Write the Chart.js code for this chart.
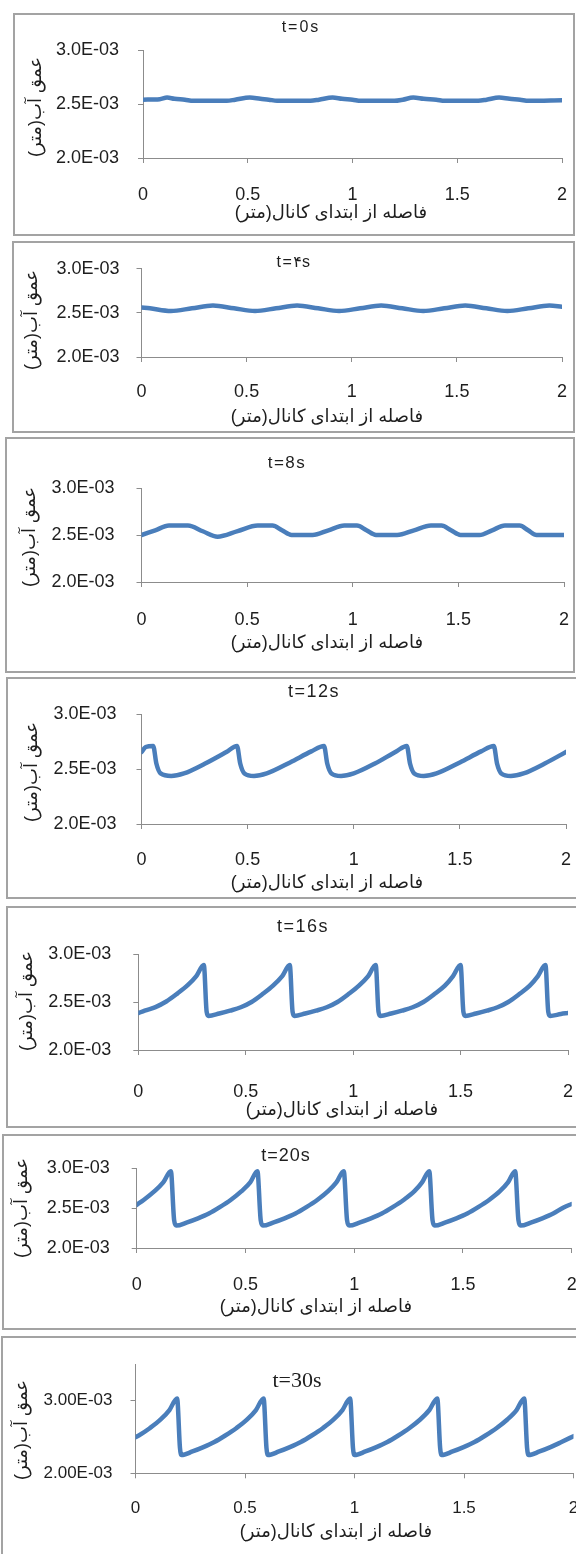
<!DOCTYPE html>
<html>
<head>
<meta charset="utf-8">
<script src="https://cdn.jsdelivr.net/npm/chart.js@4.4.0/dist/chart.umd.min.js"></script>
<style>
  html, body { margin: 0; padding: 0; background: #fff; }
  body { position: relative; width: 576px; height: 1554px; overflow: hidden; }
  .box { position: absolute; border: 2px solid #a3a3a3; box-sizing: border-box; }
  canvas { position: absolute; left: 0; }
</style>
</head>
<body>
<script>
// Distance from the channel inlet (m) and water depth (m), one pair of arrays per time step.
const dist0  = [0, 0.08, 0.115, 0.15, 0.2, 0.24, 0.4, 0.44, 0.51, 0.56, 0.6, 0.64, 0.8, 0.84, 0.905, 0.95, 1.0, 1.04, 1.2, 1.24, 1.29, 1.34, 1.4, 1.44, 1.6, 1.64, 1.7, 1.75, 1.8, 1.84, 2.0];
const depth0 = [2.540e-3, 2.545e-3, 2.560e-3, 2.548e-3, 2.540e-3, 2.530e-3,
                2.530e-3, 2.540e-3, 2.560e-3, 2.548e-3, 2.540e-3, 2.530e-3,
                2.530e-3, 2.540e-3, 2.560e-3, 2.548e-3, 2.540e-3, 2.530e-3,
                2.530e-3, 2.540e-3, 2.560e-3, 2.548e-3, 2.540e-3, 2.530e-3,
                2.530e-3, 2.540e-3, 2.560e-3, 2.548e-3, 2.540e-3, 2.530e-3, 2.535e-3];

const dist4  = [0, 0.04, 0.14, 0.24, 0.34, 0.44, 0.54, 0.64, 0.74, 0.84, 0.94, 1.04, 1.14, 1.24, 1.34, 1.44, 1.54, 1.64, 1.74, 1.84, 1.94, 2.0];
const depth4 = [2.562e-3, 2.552e-3, 2.522e-3, 2.552e-3, 2.583e-3, 2.552e-3, 2.522e-3, 2.552e-3, 2.583e-3,
                2.552e-3, 2.522e-3, 2.552e-3, 2.583e-3, 2.552e-3, 2.522e-3, 2.552e-3, 2.583e-3,
                2.552e-3, 2.522e-3, 2.552e-3, 2.583e-3, 2.570e-3];

const dist8  = [0, 0.065, 0.13, 0.22, 0.29, 0.36, 0.455, 0.55, 0.62, 0.665, 0.71, 0.81, 0.885, 0.96, 1.02, 1.065, 1.11, 1.21, 1.29, 1.37, 1.42, 1.465, 1.51, 1.6, 1.66, 1.72, 1.79, 1.83, 1.87, 2.0];
const depth8 = [2.50e-3, 2.55e-3, 2.60e-3, 2.60e-3, 2.54e-3, 2.482e-3, 2.541e-3, 2.60e-3, 2.60e-3, 2.55e-3,
                2.50e-3, 2.50e-3, 2.55e-3, 2.60e-3, 2.60e-3, 2.55e-3, 2.50e-3, 2.50e-3, 2.55e-3, 2.60e-3,
                2.60e-3, 2.55e-3, 2.50e-3, 2.50e-3, 2.55e-3, 2.60e-3, 2.60e-3, 2.55e-3, 2.50e-3, 2.50e-3];

const dist12  = [0, 0.02, 0.055, 0.07, 0.09, 0.14, 0.2, 0.3, 0.4, 0.45, 0.465, 0.485, 0.53, 0.59, 0.7, 0.8, 0.86, 0.875, 0.895, 0.94, 1.0, 1.1, 1.2, 1.25, 1.265, 1.285, 1.33, 1.39, 1.5, 1.6, 1.66, 1.675, 1.695, 1.74, 1.8, 1.9, 2.0];
const depth12 = [2.655e-3, 2.700e-3, 2.710e-3, 2.550e-3, 2.460e-3, 2.437e-3, 2.460e-3, 2.550e-3, 2.655e-3,
                 2.710e-3, 2.550e-3, 2.460e-3, 2.437e-3, 2.460e-3, 2.560e-3, 2.660e-3,
                 2.710e-3, 2.550e-3, 2.460e-3, 2.437e-3, 2.460e-3, 2.550e-3, 2.660e-3,
                 2.710e-3, 2.550e-3, 2.460e-3, 2.437e-3, 2.460e-3, 2.560e-3, 2.660e-3,
                 2.710e-3, 2.550e-3, 2.460e-3, 2.437e-3, 2.460e-3, 2.550e-3, 2.655e-3];

const dist16  = [0, 0.03, 0.08, 0.13, 0.18, 0.23, 0.27, 0.305, 0.318, 0.327,
                 0.377, 0.427, 0.477, 0.527, 0.577, 0.627, 0.67, 0.705, 0.718, 0.727,
                 0.777, 0.827, 0.877, 0.927, 0.977, 1.027, 1.07, 1.105, 1.118, 1.127,
                 1.177, 1.227, 1.277, 1.327, 1.377, 1.427, 1.465, 1.5, 1.513, 1.522,
                 1.572, 1.622, 1.672, 1.722, 1.772, 1.822, 1.86, 1.895, 1.908, 1.917,
                 1.967, 2.0];
const depth16 = [2.385e-3, 2.410e-3, 2.447e-3, 2.505e-3, 2.585e-3, 2.675e-3, 2.770e-3, 2.885e-3, 2.400e-3, 2.355e-3,
                 2.380e-3, 2.410e-3, 2.445e-3, 2.500e-3, 2.580e-3, 2.670e-3, 2.770e-3, 2.885e-3, 2.400e-3, 2.355e-3,
                 2.380e-3, 2.410e-3, 2.445e-3, 2.500e-3, 2.580e-3, 2.670e-3, 2.770e-3, 2.885e-3, 2.400e-3, 2.355e-3,
                 2.380e-3, 2.410e-3, 2.445e-3, 2.500e-3, 2.580e-3, 2.670e-3, 2.770e-3, 2.885e-3, 2.400e-3, 2.355e-3,
                 2.380e-3, 2.410e-3, 2.445e-3, 2.500e-3, 2.580e-3, 2.670e-3, 2.770e-3, 2.885e-3, 2.400e-3, 2.355e-3,
                 2.375e-3, 2.385e-3];

const dist20  = [0, 0.032, 0.082, 0.122, 0.157, 0.172, 0.182,
                 0.232, 0.282, 0.332, 0.382, 0.432, 0.482, 0.522, 0.555, 0.57, 0.58,
                 0.63, 0.68, 0.73, 0.78, 0.83, 0.88, 0.918, 0.952, 0.967, 0.977,
                 1.027, 1.077, 1.127, 1.177, 1.227, 1.277, 1.312, 1.345, 1.36, 1.37,
                 1.42, 1.47, 1.52, 1.57, 1.62, 1.67, 1.707, 1.74, 1.755, 1.765,
                 1.815, 1.865, 1.915, 1.965, 2.0];
const depth20 = [2.54e-3, 2.60e-3, 2.71e-3, 2.82e-3, 2.96e-3, 2.35e-3, 2.28e-3,
                 2.32e-3, 2.37e-3, 2.43e-3, 2.51e-3, 2.60e-3, 2.71e-3, 2.82e-3, 2.96e-3, 2.35e-3, 2.28e-3,
                 2.32e-3, 2.37e-3, 2.43e-3, 2.51e-3, 2.60e-3, 2.71e-3, 2.82e-3, 2.96e-3, 2.35e-3, 2.28e-3,
                 2.32e-3, 2.37e-3, 2.43e-3, 2.51e-3, 2.60e-3, 2.71e-3, 2.82e-3, 2.96e-3, 2.35e-3, 2.28e-3,
                 2.32e-3, 2.37e-3, 2.43e-3, 2.51e-3, 2.60e-3, 2.71e-3, 2.82e-3, 2.96e-3, 2.35e-3, 2.28e-3,
                 2.32e-3, 2.37e-3, 2.43e-3, 2.51e-3, 2.55e-3];

const dist30  = [0, 0.015, 0.065, 0.115, 0.155, 0.19, 0.203, 0.21,
                 0.26, 0.31, 0.36, 0.41, 0.46, 0.51, 0.55, 0.585, 0.598, 0.605,
                 0.655, 0.705, 0.755, 0.805, 0.855, 0.905, 0.945, 0.98, 0.993, 1.0,
                 1.05, 1.1, 1.15, 1.2, 1.25, 1.3, 1.342, 1.378, 1.391, 1.398,
                 1.448, 1.498, 1.548, 1.598, 1.648, 1.698, 1.74, 1.775, 1.788, 1.795,
                 1.845, 1.895, 1.945, 2.0];
const depth30 = [2.497e-3, 2.52e-3, 2.62e-3, 2.74e-3, 2.87e-3, 3.03e-3, 2.35e-3, 2.25e-3,
                 2.30e-3, 2.36e-3, 2.43e-3, 2.52e-3, 2.62e-3, 2.74e-3, 2.87e-3, 3.03e-3, 2.35e-3, 2.25e-3,
                 2.30e-3, 2.36e-3, 2.43e-3, 2.52e-3, 2.62e-3, 2.74e-3, 2.87e-3, 3.03e-3, 2.35e-3, 2.25e-3,
                 2.30e-3, 2.36e-3, 2.43e-3, 2.52e-3, 2.62e-3, 2.74e-3, 2.87e-3, 3.03e-3, 2.35e-3, 2.25e-3,
                 2.30e-3, 2.36e-3, 2.43e-3, 2.52e-3, 2.62e-3, 2.74e-3, 2.87e-3, 3.03e-3, 2.35e-3, 2.25e-3,
                 2.30e-3, 2.36e-3, 2.43e-3, 2.51e-3];

// Tick values and labels
const xTickValues = [0, 0.5, 1, 1.5, 2];
const xTickLabels = ['0', '0.5', '1', '1.5', '2'];
const yTickValues = [2.0e-3, 2.5e-3, 3.0e-3];
const yTickLabels = ['2.0E-03', '2.5E-03', '3.0E-03'];
const yTickValues30 = [2.0e-3, 3.0e-3];
const yTickLabels30 = ['2.00E-03', '3.00E-03'];

// Captions
const timeLabels = ['t=0s', 't=۴s', 't=8s', 't=12s', 't=16s', 't=20s', 't=30s'];
const xAxisTitle = 'فاصله از ابتدای کانال(متر)';
const yAxisTitle = 'عمق آب(متر)';

const series = [
  [dist0, depth0], [dist4, depth4], [dist8, depth8], [dist12, depth12],
  [dist16, depth16], [dist20, depth20], [dist30, depth30]
];

// Page geometry of each panel (page pixels): frame box, plot area, caption anchors.
const SANS = '"Liberation Sans", Arial, "DejaVu Sans", sans-serif';
const SERIF = '"Liberation Serif", "Times New Roman", "DejaVu Serif", serif';
const layout = [
  { box: [13, 13, 575, 236],    rightEdge: true,  area: [143, 50, 562, 158],      yMax: 3.0e-3, head: [301, 28],   headFont: '16px ' + SANS, headSp: '2px',   xt: [331, 213],  yt: [36, 107],  gap: 24, xOff: 37 },
  { box: [12, 241, 575, 433],   rightEdge: true,  area: [141.5, 267, 562, 357],   yMax: 3.0e-3, head: [294, 263],  headFont: '16px ' + SANS, headSp: '1.5px', xt: [327, 417],  yt: [32, 320],  gap: 22, xOff: 35 },
  { box: [5, 437, 575, 673],    rightEdge: true,  area: [141.5, 488, 564, 582],   yMax: 3.0e-3, head: [287, 463],  headFont: '17px ' + SANS, headSp: '1.5px', xt: [327, 643],  yt: [30, 537],  gap: 27, xOff: 38 },
  { box: [6, 677, 576, 899],    rightEdge: false, area: [141.5, 714, 566, 824],   yMax: 3.0e-3, head: [314, 692],  headFont: '18px ' + SANS, headSp: '1.5px', xt: [327, 883],  yt: [32, 772],  gap: 25, xOff: 36 },
  { box: [6, 906, 576, 1128],   rightEdge: false, area: [138.3, 954, 568, 1050],  yMax: 3.0e-3, head: [303, 927],  headFont: '18px ' + SANS, headSp: '1.5px', xt: [342, 1110], yt: [27, 1001], gap: 27, xOff: 42 },
  { box: [2, 1134, 576, 1330],  rightEdge: false, area: [136.7, 1168, 571.7, 1248], yMax: 3.0e-3, head: [286, 1156], headFont: '18px ' + SANS, headSp: '1px', xt: [316, 1307], yt: [22, 1208], gap: 27, xOff: 37 },
  { box: [1, 1336, 576, 1600],  rightEdge: false, area: [135.5, 1361, 573.5, 1473.3], yMax: 3.5e-3, head: [297, 1381], headFont: '22px ' + SERIF, headSp: '0px', xt: [336, 1532], yt: [22, 1430], gap: 23, xOff: 35, ticks30: true }
];

const LINE = '#4a7ebb';
const AXIS = '#8c8c8c';
const TEXT = '#1e1e1e';
const TICK_LEN = 5;
const CANVAS_W = 600;

// Captions: panel heading, horizontal-axis title and rotated vertical-axis title
const panelText = {
  id: 'panelText',
  afterDraw(chart, args, o) {
    const ctx = chart.ctx;
    ctx.save();
    ctx.fillStyle = TEXT;
    ctx.textAlign = 'center';
    ctx.textBaseline = 'middle';
    ctx.direction = 'ltr';
    ctx.font = o.headFont;
    if ('letterSpacing' in ctx) ctx.letterSpacing = o.headSp;
    ctx.fillText(o.head, o.headPos[0], o.headPos[1]);
    if ('letterSpacing' in ctx) ctx.letterSpacing = '0px';
    ctx.direction = 'rtl';
    ctx.font = o.axisFont;
    ctx.fillText(o.xTitle, o.xPos[0], o.xPos[1]);
    ctx.translate(o.yPos[0], o.yPos[1]);
    ctx.rotate(-Math.PI / 2);
    ctx.fillText(o.yTitle, 0, 0);
    ctx.restore();
  }
};

layout.forEach((p, i) => {
  const [bl, bt, br, bb] = p.box;
  const frame = document.createElement('div');
  frame.className = 'box';
  frame.style.left = bl + 'px';
  frame.style.top = bt + 'px';
  frame.style.width = (p.rightEdge ? br - bl : 640 - bl) + 'px';
  frame.style.height = (bb - bt) + 'px';
  document.body.appendChild(frame);

  const cTop = bt;
  const cH = Math.min(bb, 1554) - bt;
  const canvas = document.createElement('canvas');
  canvas.width = CANVAS_W;
  canvas.height = cH;
  canvas.style.top = cTop + 'px';
  document.body.appendChild(canvas);

  const [ax0, ay0, ax1, ay1] = p.area;
  const topPad = ay0 - cTop;
  const bottomRel = ay1 - cTop;
  const tickFont = { family: SANS, size: p.ticks30 ? 17 : 18, lineHeight: 1.2 };
  const lh = tickFont.size * 1.2;
  const yVals = p.ticks30 ? yTickValues30 : yTickValues;
  const yLabs = p.ticks30 ? yTickLabels30 : yTickLabels;
  const [xs, ys] = series[i];

  new Chart(canvas, {
    type: 'line',
    data: {
      datasets: [{
        data: xs.map((x, k) => ({ x: x, y: ys[k] })),
        borderColor: LINE,
        borderWidth: 4.5,
        pointRadius: 0,
        cubicInterpolationMode: 'monotone',
        borderJoinStyle: 'round',
        borderCapStyle: 'round',
        fill: false
      }]
    },
    options: {
      responsive: false,
      animation: false,
      devicePixelRatio: 1,
      layout: { padding: { left: 0, top: topPad, right: CANVAS_W - ax1, bottom: 0 } },
      plugins: {
        legend: { display: false },
        tooltip: { enabled: false },
        panelText: {
          head: timeLabels[i], headFont: p.headFont, headSp: p.headSp, headPos: [p.head[0], p.head[1] - cTop],
          xTitle: xAxisTitle, yTitle: yAxisTitle, axisFont: '18px ' + SANS,
          xPos: [p.xt[0], p.xt[1] - cTop], yPos: [p.yt[0], p.yt[1] - cTop]
        }
      },
      scales: {
        x: {
          type: 'linear', min: 0, max: 2,
          afterFit(s) { s.height = cH - bottomRel; },
          afterBuildTicks(s) { s.ticks = xTickValues.map(v => ({ value: v })); },
          ticks: {
            callback: (v, k) => xTickLabels[k],
            font: tickFont, color: TEXT, maxRotation: 0, autoSkip: false,
            padding: p.xOff - TICK_LEN - lh / 2
          },
          grid: { drawOnChartArea: false, drawTicks: true, tickLength: TICK_LEN, color: AXIS },
          border: { display: true, color: AXIS, width: 1 }
        },
        y: {
          type: 'linear', min: 2.0e-3, max: p.yMax,
          afterFit(s) { s.width = ax0; },
          afterBuildTicks(s) { s.ticks = yVals.map(v => ({ value: v })); },
          ticks: {
            callback: (v, k) => yLabs[k],
            font: tickFont, color: TEXT, padding: p.gap - TICK_LEN
          },
          grid: { drawOnChartArea: false, drawTicks: true, tickLength: TICK_LEN, color: AXIS },
          border: { display: true, color: AXIS, width: 1 }
        }
      }
    },
    plugins: [panelText]
  });
});
</script>
</body>
</html>
